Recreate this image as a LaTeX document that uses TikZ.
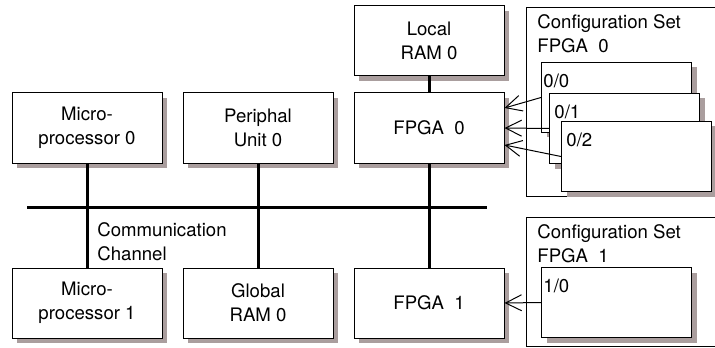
\documentclass[tikz,border=0pt]{standalone}
\usepackage{fontspec}
\setmainfont{TeX Gyre Heros}
\usetikzlibrary{positioning}
\usetikzlibrary{scopes}
\usetikzlibrary{shadows}
\usetikzlibrary{arrows.meta}
\definecolor{shadowgray}{RGB}{170,158,158}

\begin{document}
\begin{tikzpicture}[
    font=\fontsize{9.3}{12}\selectfont,
    ubox/.style={draw, fill=white, line width=0.5pt, inner sep=0, minimum width=75pt, minimum height=35pt, align=center,
        drop shadow={shadow xshift=2.5pt, shadow yshift=-2.5pt, fill=shadowgray, opacity=1}},
    sbox/.style={draw, line width=0.5pt, inner sep=0, minimum width=100pt, anchor=north west},
    ttext/.style={anchor=north west, inner sep=0, align=left},
    bline/.style={line width=1.5pt},
    cedge/.style={->, >={Straight Barb[length=8pt, width=8pt]}, line width=0.5pt}
]
\useasboundingbox (0,0) rectangle (357.5pt,-173.5pt);
\clip (0,0) rectangle (357.5pt,-173.5pt);

% Top row
\node[ubox] (mp0) at (43.5pt,-64pt) {Micro-\\processor 0};
\node[ubox, right=10pt of mp0] (pu0) {Periphal\\Unit 0};
\node[ubox, right=10pt of pu0] (fpga0) {FPGA\ \ 0};
\node[ubox, above=8pt of fpga0] (lram0) {Local\\RAM 0};

% Bottom row
\node[ubox, below=52pt of mp0] (mp1) {Micro-\\processor 1};
\node[ubox, right=10pt of mp1] (gram0) {Global\\RAM 0};
\node[ubox, right=10pt of gram0] (fpga1) {FPGA\ \ 1};

% Communication Channel
\coordinate (busl) at (13.5pt,-103.5pt);
\coordinate (busr) at (243.5pt,-103.5pt);
\draw[bline] (busl) -- (busr);
\draw[bline] (mp0.south) -- (mp1.north);
\draw[bline] (pu0.south) -- (gram0.north);
\draw[bline] (lram0.south) -- (fpga0.north);
\draw[bline] (fpga0.south) -- (fpga1.north);
\node[ttext] (cc) at (48.5pt,-111pt) {Communication\\Channel};

% Configuration Set FPGA 0
{ [
    ctext/.style={ttext}
  ]
\node[sbox, minimum height=94.5pt] (cfg0) at (263pt,-3.5pt) {};
\node[ttext, below right=3.5pt and 5.5pt of cfg0.north west] (cfg0t) {Configuration Set\\FPGA\ \ 0};
\node[ubox, anchor=north west] (c00) at (270.5pt,-31pt) {};
\node[ctext, below right=6pt and 1pt of c00.north west] (c00t) {0/0};
\node[ubox, anchor=north west] (c01) at ([xshift=4pt, yshift=-15.5pt]c00.north west) {};
\node[ctext, below right=6pt and 2.5pt of c01.north west] (c01t) {0/1};
\node[ubox, anchor=north west] (c02) at ([xshift=6pt, yshift=-14pt]c01.north west) {};
\node[ctext, below right=6pt and 2.5pt of c02.north west] (c02t) {0/2};
}

% Configuration Set FPGA 1
{ [
    ctext/.style={ttext}
  ]
\node[sbox, minimum height=64.5pt] (cfg1) at (263pt,-108.5pt) {};
\node[ttext, below right=3.5pt and 5.5pt of cfg1.north west] (cfg1t) {Configuration Set\\FPGA\ \ 1};
\node[ubox, anchor=north west] (c10) at (270.5pt,-133.5pt) {};
\node[ctext, below right=6pt and 1pt of c10.north west] (c10t) {1/0};
}

% Loading
\draw[cedge] (c00.west) -- ([yshift=10pt]fpga0.east);
\draw[cedge] (c01.west) -- (fpga0.east);
\draw[cedge] (c02.west) -- ([yshift=-8.5pt]fpga0.east);
\draw[cedge] (c10.west) -- (fpga1.east);

\end{tikzpicture}
\end{document}
